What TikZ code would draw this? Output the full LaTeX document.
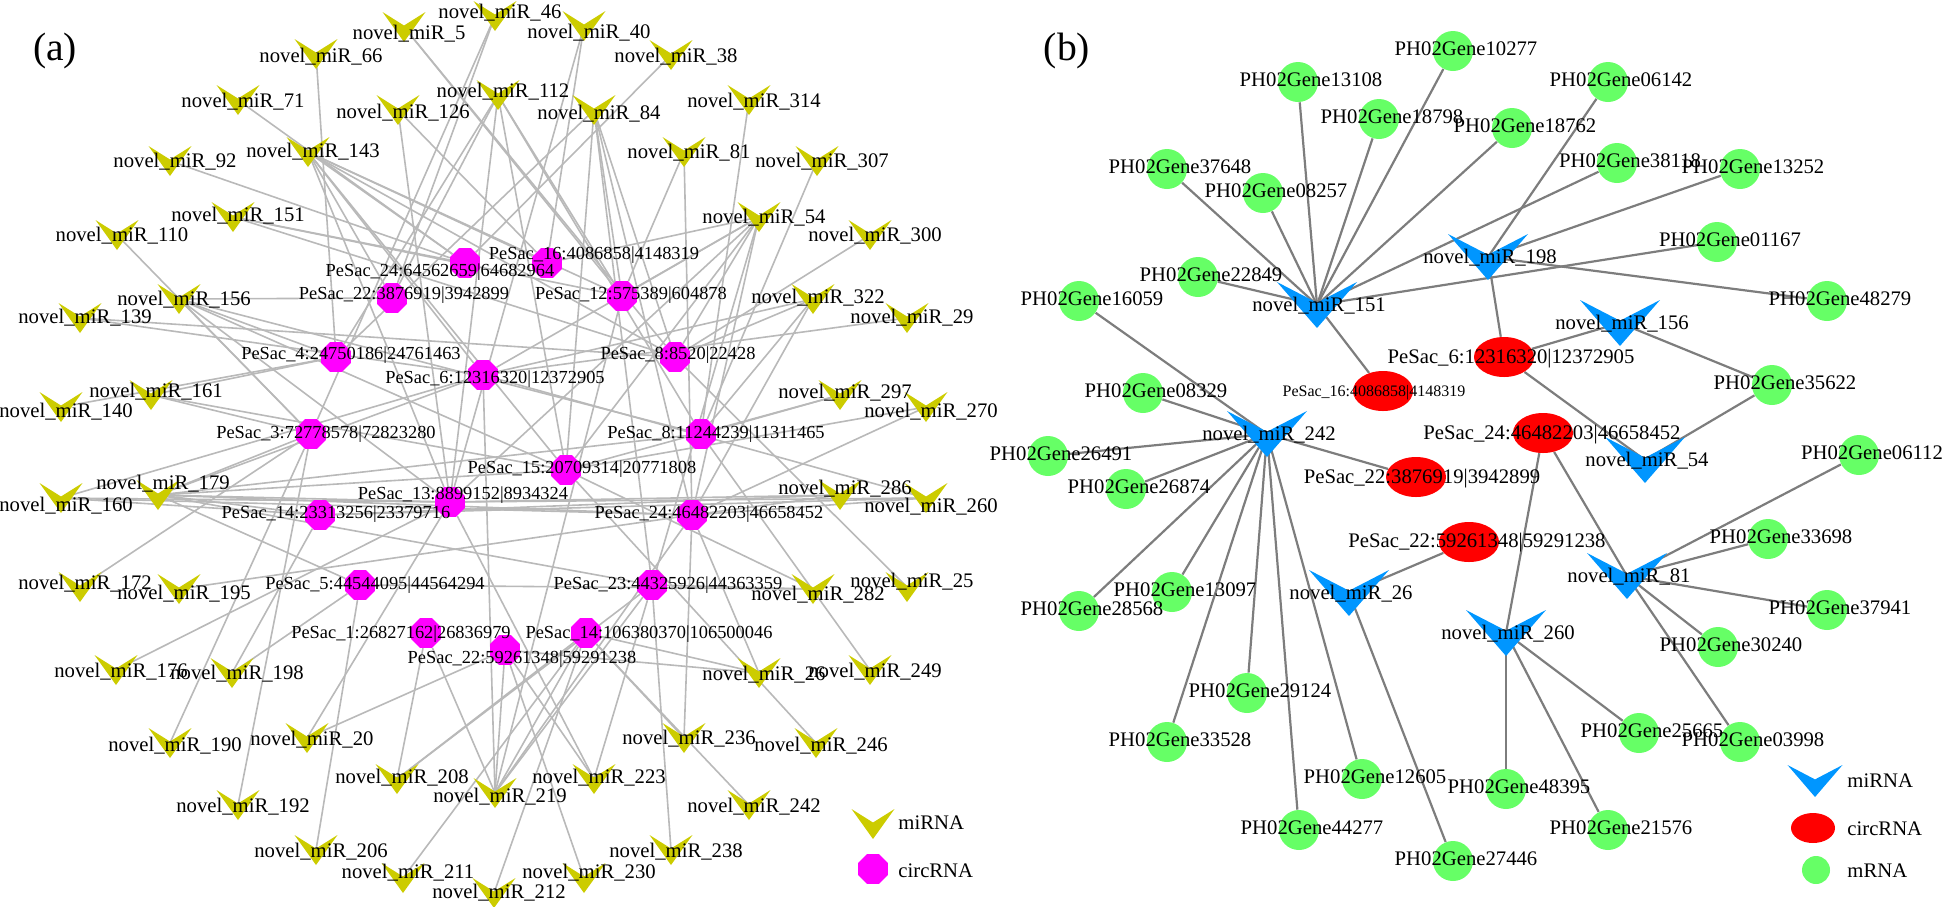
\documentclass[tikz,border=0pt]{standalone}
\usepackage{fontspec}
\setmainfont{Liberation Serif}
\usetikzlibrary{shapes.geometric,calc}
\pgfdeclarelayer{edges}
\pgfdeclarelayer{fg}
\pgfsetlayers{edges,main,fg}
\definecolor{mirY}{RGB}{204,204,0}
\definecolor{mirB}{RGB}{0,150,255}
\definecolor{circM}{RGB}{255,0,255}
\definecolor{circR}{RGB}{255,0,0}
\definecolor{geneG}{RGB}{102,255,102}
\definecolor{edgA}{RGB}{185,185,185}
\definecolor{edgB}{RGB}{125,125,125}
\tikzset{
 oct/.style={regular polygon, regular polygon sides=8, minimum size=16pt, inner sep=0pt, fill=circM, draw=none},
 circb/.style={ellipse, minimum width=30pt, minimum height=20pt, inner sep=0pt, fill=circR, draw=none},
 gene/.style={circle, minimum size=20pt, inner sep=0pt, fill=geneG, draw=none},
 lbl/.style={anchor=base, inner sep=0pt, font=\fontsize{10.35}{12}\selectfont},
 lblc/.style={anchor=base, inner sep=0pt, font=\fontsize{9.2}{11}\selectfont},
 lbls/.style={anchor=base, inner sep=0pt, font=\fontsize{8}{10}\selectfont},
 ttl/.style={anchor=base, inner sep=0pt, font=\fontsize{19.8}{22}\selectfont},
 edgeA/.style={draw=edgA, line width=0.8pt},
 edgeB/.style={draw=edgB, line width=1.1pt},
}
% yellow miRNA (panel a): name, x, y, number, label dy
\newcommand{\mirY}[5]{%
 \coordinate (#1) at (#2,#3);
 \fill[mirY] ($(#1)+(-21.5,-15)$) -- ($(#1)+(0,-1.5)$) -- ($(#1)+(21.5,-15)$) -- ($(#1)+(0,15)$) -- cycle;
 \begin{pgfonlayer}{fg}\node[lbl] (#1l) at ($(#1)+(5,#5)$) {novel\_miR\_#4};\end{pgfonlayer}}
% blue miRNA (panel b)
\newcommand{\mirB}[4]{%
 \coordinate (#1) at (#2,#3);
 \fill[mirB] ($(#1)+(-40,-23)$) -- ($(#1)+(0,-2.3)$) -- ($(#1)+(40,-23)$) -- ($(#1)+(0,23)$) -- cycle;
 \begin{pgfonlayer}{fg}\node[lbl] (#1l) at ($(#1)+(2,6)$) {novel\_miR\_#4};\end{pgfonlayer}}
% circRNA (panel a): name, x, y, label x, label baseline y, text
\newcommand{\circA}[6]{%
 \node[oct] (#1) at (#2,#3) {};
 \begin{pgfonlayer}{fg}\node[lblc] (#1l) at (#4,#5) {#6};\end{pgfonlayer}}
% circRNA (panel b)
\newcommand{\circB}[7]{%
 \node[circb] (#1) at (#2,#3) {};
 \begin{pgfonlayer}{fg}\node[#7] (#1l) at (#4,#5) {#6};\end{pgfonlayer}}
% mRNA (panel b)
\newcommand{\geneB}[4]{%
 \node[gene] (#1) at (#2,#3) {};
 \begin{pgfonlayer}{fg}\node[lbl] (#1l) at ($(#1)+(13,4)$) {PH02Gene#4};\end{pgfonlayer}}
\begin{document}
\begin{tikzpicture}[x=0.5pt,y=-0.5pt]
\useasboundingbox (0,0) rectangle (1943,906);
\node[ttl] (ta) at (55,60) {(a)};
\node[ttl] (tb) at (1067,60) {(b)};
% ---------------- panel (a) ----------------
\mirY{m5}{404}{27}{5}{12}
\mirY{m46}{495}{16}{46}{2}
\mirY{m40}{584}{26}{40}{12}
\mirY{m66}{316}{54}{66}{8}
\mirY{m38}{671}{55}{38}{7}
\mirY{m112}{498}{95}{112}{2}
\mirY{m71}{238}{100}{71}{7}
\mirY{m126}{398}{110}{126}{8}
\mirY{m84}{594}{110}{84}{9}
\mirY{m314}{749}{100}{314}{7}
\mirY{m143}{308}{152}{143}{5}
\mirY{m92}{170}{161}{92}{6}
\mirY{m81}{684}{152}{81}{6}
\mirY{m307}{817}{161}{307}{6}
\mirY{m151}{233}{217}{151}{4}
\mirY{m54}{759}{217}{54}{6}
\mirY{m110}{117}{235}{110}{6}
\mirY{m300}{870}{235}{300}{6}
\mirY{m156}{179}{299}{156}{6}
\mirY{m322}{813}{299}{322}{4}
\mirY{m139}{80}{318}{139}{5}
\mirY{m29}{907}{318}{29}{5}
\mirY{m161}{151}{395}{161}{2}
\mirY{m297}{840}{395}{297}{3}
\mirY{m140}{61}{407}{140}{10}
\mirY{m270}{926}{407}{270}{10}
\mirY{m179}{158}{495}{179}{-6}
\mirY{m286}{840}{495}{286}{-1}
\mirY{m160}{61}{498}{160}{13}
\mirY{m260}{926}{498}{260}{14}
\mirY{m172}{80}{587}{172}{2}
\mirY{m195}{179}{589}{195}{10}
\mirY{m282}{813}{589}{282}{11}
\mirY{m25}{907}{587}{25}{0}
\mirY{m176}{116}{670}{176}{7}
\mirY{m198}{232}{673}{198}{6}
\mirY{m26}{759}{673}{26}{7}
\mirY{m249}{870}{670}{249}{7}
\mirY{m190}{170}{743}{190}{8}
\mirY{m20}{307}{738}{20}{7}
\mirY{m236}{684}{738}{236}{6}
\mirY{m246}{816}{743}{246}{8}
\mirY{m208}{397}{779}{208}{4}
\mirY{m223}{594}{779}{223}{4}
\mirY{m219}{495}{793}{219}{9}
\mirY{m192}{238}{805}{192}{7}
\mirY{m242}{749}{805}{242}{7}
\mirY{m206}{316}{850}{206}{7}
\mirY{m238}{671}{850}{238}{7}
\mirY{m211}{403}{878}{211}{0}
\mirY{m212}{494}{893}{212}{5}
\mirY{m230}{584}{878}{230}{0}
\circA{c24a}{465}{263}{440}{276}{PeSac\_24:64562659|64682964}
\circA{c16}{547}{263}{594}{259}{PeSac\_16:4086858|4148319}
\circA{c22a}{392}{298}{404}{299}{PeSac\_22:3876919|3942899}
\circA{c12}{622}{296}{631}{299}{PeSac\_12:575389|604878}
\circA{c4}{336}{357}{351}{359}{PeSac\_4:24750186|24761463}
\circA{c8a}{675}{357}{678}{359}{PeSac\_8:8520|22428}
\circA{c6}{483}{375}{495}{383}{PeSac\_6:12316320|12372905}
\circA{c3}{311}{434}{326}{438}{PeSac\_3:72778578|72823280}
\circA{c8b}{701}{434}{716}{438}{PeSac\_8:11244239|11311465}
\circA{c15}{566}{470}{582}{473}{PeSac\_15:20709314|20771808}
\circA{c13}{450}{502}{463}{499}{PeSac\_13:8899152|8934324}
\circA{c14a}{320}{515}{336}{518}{PeSac\_14:23313256|23379716}
\circA{c24b}{692}{515}{709}{518}{PeSac\_24:46482203|46658452}
\circA{c5}{360}{585}{375}{589}{PeSac\_5:44544095|44564294}
\circA{c23}{652}{585}{668}{589}{PeSac\_23:44325926|44363359}
\circA{c1}{426}{633}{401}{638}{PeSac\_1:26827162|26836979}
\circA{c14b}{586}{633}{649}{638}{PeSac\_14:106380370|106500046}
\circA{c22b}{505}{650}{522}{663}{PeSac\_22:59261348|59291238}
% legend (a)
\coordinate (legAm) at (873,824);
\fill[mirY] ($(legAm)+(-21.5,-15)$) -- ($(legAm)+(0,-1.5)$) -- ($(legAm)+(21.5,-15)$) -- ($(legAm)+(0,15)$) -- cycle;
\node[lbl, anchor=base west] (legAml) at (898,829) {miRNA};
\node[oct] (legAc) at (873,869) {};
\node[lbl, anchor=base west] (legAcl) at (898,877) {circRNA};
\begin{pgfonlayer}{edges}
\foreach \m/\c in {m5/c12, m5/c8a, m46/c3, m46/c22a, m40/c16, m40/c13, m66/c4, m38/c24a,
 m112/c15, m112/c12, m112/c8b, m112/c22a, m112/c4, m112/c13, m71/c24a, m126/c16, m126/c13,
 m84/c12, m84/c15, m84/c8a, m84/c4, m84/c24b, m84/c23, m314/c8b,
 m143/c24a, m143/c22a, m143/c12, m143/c8a, m143/c6, m143/c16, m143/c15, m143/c13,
 m92/c24a, m81/c12, m81/c24b, m307/c8b, m151/c24a, m151/c12, m151/c8a,
 m54/c16, m54/c12, m54/c8a, m54/c6, m54/c15, m54/c24b, m54/c23, m54/c13,
 m110/c3, m300/c8a, m156/c3, m156/c22a, m156/c13, m156/c15, m156/c4, m156/c8b,
 m322/c8a, m322/c8b, m322/c24b, m322/c6, m139/c8a, m139/c6, m29/c6, m161/c4, m161/c3, m161/c15,
 m297/c8b, m297/c15, m140/c4, m270/c24b, m270/c15,
 m179/c3, m179/c14a, m179/c13, m179/c15, m179/c24b, m179/c8b, m179/c23, m179/c5, m179/c6,
 m286/c24b, m286/c13, m286/c14a, m160/c14a, m160/c13, m160/c6, m160/c24b,
 m260/c6, m260/c24b, m260/c14a, m260/c13,
 m172/c3, m195/c24b, m282/c23, m282/c15, m282/c5, m25/c8a, m176/c13, m198/c14a, m198/c5,
 m26/c22b, m26/c14b, m26/c24b, m249/c8b, m190/c3, m20/c13, m20/c22b, m236/c24b, m236/c14b,
 m246/c15, m208/c1, m208/c14b, m208/c23, m223/c23, m223/c22b, m223/c13,
 m219/c14b, m219/c23, m219/c24b, m219/c22b, m219/c6, m219/c12, m219/c1,
 m192/c3, m242/c14b, m206/c5, m238/c23, m211/c14b, m212/c14b, m230/c22b}
 \draw[edgeA] (\m) -- (\c);
\end{pgfonlayer}
% ---------------- panel (b) ----------------
\mirB{b151}{1317}{305}{151}
\mirB{b198}{1488}{257}{198}
\mirB{b156}{1620}{323}{156}
\mirB{b242}{1267}{434}{242}
\mirB{b54}{1645}{460}{54}
\mirB{b81}{1627}{576}{81}
\mirB{b26}{1349}{593}{26}
\mirB{b260}{1506}{633}{260}
\circB{bc16}{1383}{391}{1374}{396}{PeSac\_16:4086858|4148319}{lbls}
\circB{bc6}{1504}{357}{1511}{363}{PeSac\_6:12316320|12372905}{lbl}
\circB{bc24}{1543}{433}{1552}{439}{PeSac\_24:46482203|46658452}{lbl}
\circB{bc22a}{1416}{477}{1422}{483}{PeSac\_22:3876919|3942899}{lbl}
\circB{bc22b}{1469}{542}{1477}{547}{PeSac\_22:59261348|59291238}{lbl}
\geneB{g13108}{1298}{82}{13108}
\geneB{g37648}{1167}{169}{37648}
\geneB{g08257}{1263}{193}{08257}
\geneB{g18798}{1379}{119}{18798}
\geneB{g10277}{1453}{51}{10277}
\geneB{g22849}{1198}{277}{22849}
\geneB{g16059}{1079}{301}{16059}
\geneB{g06142}{1608}{82}{06142}
\geneB{g18762}{1512}{128}{18762}
\geneB{g38118}{1617}{163}{38118}
\geneB{g13252}{1740}{169}{13252}
\geneB{g01167}{1717}{242}{01167}
\geneB{g48279}{1827}{301}{48279}
\geneB{g08329}{1143}{393}{08329}
\geneB{g26491}{1048}{456}{26491}
\geneB{g26874}{1126}{489}{26874}
\geneB{g13097}{1172}{592}{13097}
\geneB{g28568}{1079}{611}{28568}
\geneB{g35622}{1772}{385}{35622}
\geneB{g06112}{1859}{455}{06112}
\geneB{g33698}{1768}{539}{33698}
\geneB{g37941}{1827}{610}{37941}
\geneB{g30240}{1718}{647}{30240}
\geneB{g25665}{1639}{733}{25665}
\geneB{g03998}{1740}{742}{03998}
\geneB{g48395}{1506}{789}{48395}
\geneB{g21576}{1608}{830}{21576}
\geneB{g29124}{1247}{693}{29124}
\geneB{g33528}{1167}{742}{33528}
\geneB{g12605}{1362}{779}{12605}
\geneB{g44277}{1299}{830}{44277}
\geneB{g27446}{1453}{861}{27446}
% legend (b)
\coordinate (legBm) at (1815,781);
\fill[mirB] ($(legBm)+(-27.5,-16)$) -- ($(legBm)+(0,-1.6)$) -- ($(legBm)+(27.5,-16)$) -- ($(legBm)+(0,16)$) -- cycle;
\node[lbl, anchor=base west] (legBml) at (1847,787) {miRNA};
\node[ellipse, minimum width=22pt, minimum height=15pt, inner sep=0pt, fill=circR] (legBc) at (1813,828) {};
\node[lbl, anchor=base west] (legBcl) at (1847,835) {circRNA};
\node[circle, minimum size=14pt, inner sep=0pt, fill=geneG] (legBg) at (1816,870) {};
\node[lbl, anchor=base west] (legBgl) at (1847,877) {mRNA};
\begin{pgfonlayer}{edges}
\foreach \m/\g in {b151/g13108, b151/g37648, b151/g08257, b151/g18798, b151/g10277, b151/g22849,
 b151/g18762, b151/g38118, b151/g01167, b151/bc16,
 b198/g06142, b198/g13252, b198/g48279, b198/bc6,
 b156/bc6, b156/g35622, b54/bc6, b54/g35622,
 b81/bc24, b81/g06112, b81/g33698, b81/g37941, b81/g30240, b81/g03998,
 b260/bc24, b260/g48395, b260/g21576, b260/g25665,
 b26/bc22b, b26/g27446,
 b242/g16059, b242/g08329, b242/g26491, b242/g26874, b242/g28568, b242/g13097,
 b242/g33528, b242/g29124, b242/g44277, b242/g12605, b242/bc22a}
 \draw[edgeB] (\m) -- (\g);
\end{pgfonlayer}
\end{tikzpicture}
\end{document}
